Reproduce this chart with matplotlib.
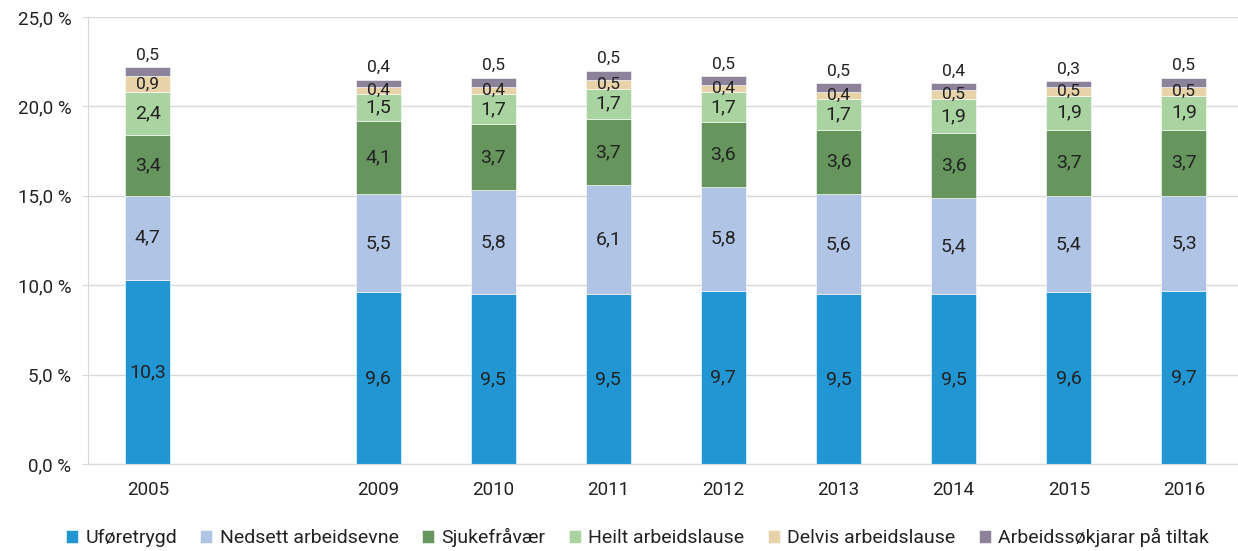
import numpy as np
import matplotlib.pyplot as plt

# years, with an empty slot between 2005 and 2009
years = ['2005', '', '2009', '2010', '2011', '2012', '2013', '2014', '2015', '2016']

uforetrygd = [10.3, None, 9.6, 9.5, 9.5, 9.7, 9.5, 9.5, 9.6, 9.7]
nedsett = [4.7, None, 5.5, 5.8, 6.1, 5.8, 5.6, 5.4, 5.4, 5.3]
sjuke = [3.4, None, 4.1, 3.7, 3.7, 3.6, 3.6, 3.6, 3.7, 3.7]
heilt = [2.4, None, 1.5, 1.7, 1.7, 1.7, 1.7, 1.9, 1.9, 1.9]
delvis = [0.9, None, 0.4, 0.4, 0.5, 0.4, 0.4, 0.5, 0.5, 0.5]
tiltak = [0.5, None, 0.4, 0.5, 0.5, 0.5, 0.5, 0.4, 0.3, 0.5]

names = ['Uføretrygd', 'Nedsett arbeidsevne', 'Sjukefråvær', 'Heilt arbeidslause',
         'Delvis arbeidslause', 'Arbeidssøkjarar på tiltak']
colors = ['#2196D3', '#B0C4E6', '#66965E', '#A9D3A0', '#E8D2A8', '#8C8299']
series = [uforetrygd, nedsett, sjuke, heilt, delvis, tiltak]

plt.rcParams['font.family'] = ['Roboto', 'DejaVu Sans']

fig = plt.figure(figsize=(12.38, 5.51), dpi=100)
ax = fig.add_axes([88/1238, 1-464/551, 1-88/1238, (464-17)/551])

x = np.arange(len(years))
bottom = np.zeros(len(years))
for k, (vals, name, col) in enumerate(zip(series, names, colors)):
    v = np.array([np.nan if a is None else a for a in vals])
    h = np.nan_to_num(v)
    ax.bar(x, h, 0.39, bottom=bottom, color=col, label=name,
           edgecolor='white', linewidth=0.4)
    for i in range(len(years)):
        if np.isnan(v[i]):
            continue
        txt = f'{v[i]:.1f}'.replace('.', ',')
        if k == len(series) - 1:
            ax.text(x[i], bottom[i] + h[i] + 0.25, txt, ha='center', va='bottom',
                    fontsize=12.5, color='#222222')
        else:
            ax.text(x[i], bottom[i] + h[i] / 2, txt, ha='center', va='center',
                    fontsize=14 if h[i] > 1 else 12.5, color='#222222')
    bottom += h

ax.set_ylim(0, 25)
ax.set_xlim(-0.52, 9.47)
ax.set_yticks(np.arange(0, 26, 5))
ax.set_yticklabels([f'{t:.1f} %'.replace('.', ',') for t in np.arange(0, 26, 5)])
ax.set_xticks(x)
ax.set_xticklabels(years)
ax.tick_params(axis='x', length=0, pad=12, labelsize=13.5, colors='#222222')
ax.tick_params(axis='y', length=4, color='#d9d9d9', pad=8, labelsize=13.5, colors='#222222')
ax.yaxis.grid(True, color='#d9d9d9', linewidth=1)
ax.set_axisbelow(True)
for s in ['top', 'right']:
    ax.spines[s].set_visible(False)
ax.spines['left'].set_color('#d9d9d9')
ax.spines['bottom'].set_color('#d9d9d9')

fig.legend(loc='lower center', bbox_to_anchor=(0.515, -0.025), ncol=6, frameon=False,
           fontsize=14, handlelength=0.6, handleheight=0.6, handletextpad=0.4,
           columnspacing=1.2, labelcolor='#222222')

fig.savefig('out.png', dpi=100)
